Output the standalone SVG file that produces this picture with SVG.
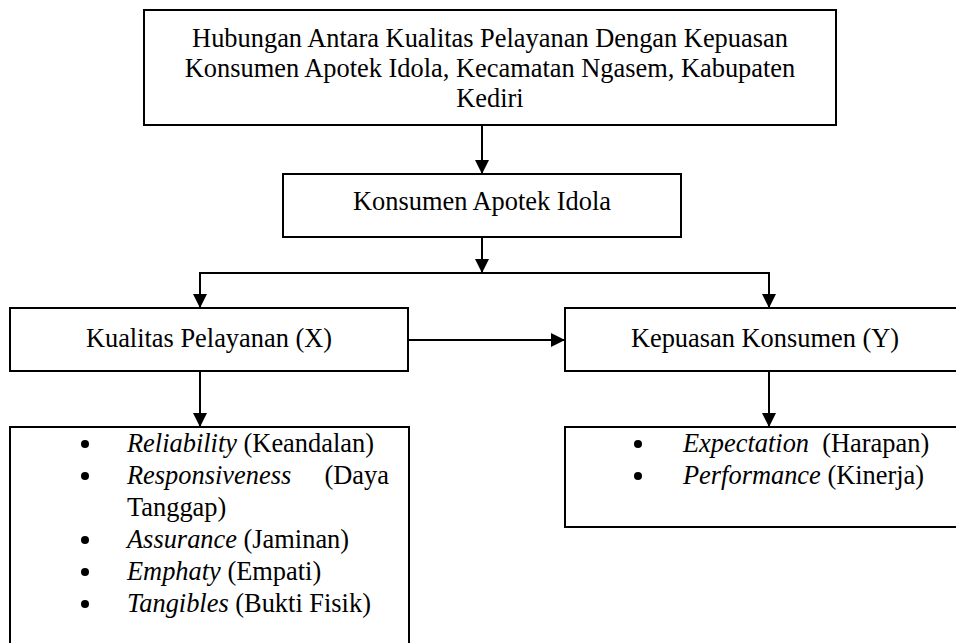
<svg xmlns="http://www.w3.org/2000/svg" width="956" height="643" viewBox="0 0 956 643">
<style>
.box{fill:#fff;stroke:#000;stroke-width:2}
.t{font-family:"Liberation Serif","Times New Roman",serif;font-size:26.4px;fill:#000}
.c{text-anchor:middle}
.i{font-style:italic}
.ln{stroke:#000;stroke-width:2;fill:none}
</style>
<defs>
<marker id="ah" viewBox="0 0 10 10" refX="10" refY="5" markerWidth="7" markerHeight="7" markerUnits="strokeWidth" orient="auto">
<path d="M0,0 L10,5 L0,10 Z" fill="#000"/>
</marker>
</defs>
<g id="connectors">
<line class="ln" x1="482" y1="125" x2="482" y2="174" marker-end="url(#ah)"/>
<line class="ln" x1="482" y1="237" x2="482" y2="273" marker-end="url(#ah)"/>
<polyline class="ln" points="200,308 200,273 769,273 769,308"/>
<line class="ln" x1="200" y1="273" x2="200" y2="308" marker-end="url(#ah)"/>
<line class="ln" x1="769" y1="273" x2="769" y2="308" marker-end="url(#ah)"/>
<line class="ln" x1="408" y1="340" x2="565" y2="340" marker-end="url(#ah)"/>
<line class="ln" x1="200" y1="371" x2="200" y2="427" marker-end="url(#ah)"/>
<line class="ln" x1="769" y1="371" x2="769" y2="427" marker-end="url(#ah)"/>
</g>
<g id="judul">
<rect class="box" x="144" y="10" width="692" height="115"/>
<text class="t c" x="490" y="47">Hubungan Antara Kualitas Pelayanan Dengan Kepuasan</text>
<text class="t c" x="490" y="77">Konsumen Apotek Idola, Kecamatan Ngasem, Kabupaten</text>
<text class="t c" x="490" y="107">Kediri</text>
</g>
<g id="konsumen">
<rect class="box" x="283" y="174" width="398" height="63"/>
<text class="t c" x="482" y="210">Konsumen Apotek Idola</text>
</g>
<g id="kualitas">
<rect class="box" x="10" y="308" width="398" height="63"/>
<text class="t c" x="209" y="347">Kualitas Pelayanan (X)</text>
</g>
<g id="kepuasan">
<rect class="box" x="565" y="308" width="400" height="63"/>
<text class="t c" x="765" y="347">Kepuasan Konsumen (Y)</text>
</g>
<g id="dimensi-x">
<rect class="box" x="10" y="427" width="399" height="230"/>
<circle cx="85" cy="444" r="4"/>
<text class="t" x="127" y="452"><tspan class="i">Reliability</tspan> (Keandalan)</text>
<circle cx="85" cy="476" r="4"/>
<text class="t" x="127" y="484"><tspan class="i">Responsiveness</tspan></text>
<text class="t" x="389" y="484" text-anchor="end">(Daya</text>
<text class="t" x="127" y="516">Tanggap)</text>
<circle cx="85" cy="540" r="4"/>
<text class="t" x="127" y="548"><tspan class="i">Assurance</tspan> (Jaminan)</text>
<circle cx="85" cy="572" r="4"/>
<text class="t" x="127" y="580"><tspan class="i">Emphaty</tspan> (Empati)</text>
<circle cx="85" cy="604" r="4"/>
<text class="t" x="127" y="612"><tspan class="i">Tangibles</tspan> (Bukti Fisik)</text>
</g>
<g id="dimensi-y">
<rect class="box" x="565" y="427" width="400" height="100"/>
<circle cx="638" cy="444" r="4"/>
<text class="t" x="683" y="452"><tspan class="i">Expectation</tspan>&#160; (Harapan)</text>
<circle cx="638" cy="476" r="4"/>
<text class="t" x="683" y="484"><tspan class="i">Performance</tspan> (Kinerja)</text>
</g>
</svg>
